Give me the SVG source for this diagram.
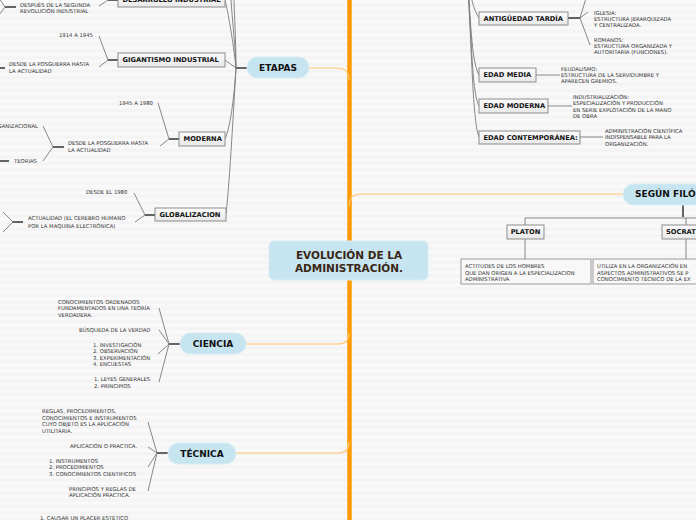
<svg xmlns="http://www.w3.org/2000/svg" width="696" height="520" viewBox="0 0 696 520">
<defs>
<pattern id="bg" patternUnits="userSpaceOnUse" width="10" height="6.6">
<rect width="10" height="6.6" fill="#f4f4f4"/>
<rect y="0" width="10" height="3.3" fill="#f9f9f9"/>
</pattern>
<linearGradient id="boxg" x1="0" y1="0" x2="0" y2="1">
<stop offset="0" stop-color="#fbfbfb"/>
<stop offset="1" stop-color="#e8e8e8"/>
</linearGradient>
</defs>
<style>
.pill{fill:#c6e5f1;stroke:#d6edf6;stroke-width:1}
.box{fill:url(#boxg);stroke:#8c8c8c;stroke-width:1}
.lbox{fill:#f8f8f8;stroke:#9a9a9a;stroke-width:1}
.pt{font-family:"DejaVu Sans",Verdana,sans-serif;font-weight:bold;font-size:9px;fill:#111;text-anchor:middle}
.bt{font-family:"DejaVu Sans",Verdana,sans-serif;font-weight:bold;font-size:6.7px;fill:#111}
.lt{font-family:"DejaVu Sans",Verdana,sans-serif;font-size:5.3px;fill:#333}
.ct{font-family:"DejaVu Sans",Verdana,sans-serif;font-weight:bold;font-size:10.5px;fill:#3a2614;text-anchor:middle}
.g{fill:none;stroke:#7a7a7a;stroke-width:0.9}
.d{fill:none;stroke:#333;stroke-width:1.5}
.o{fill:none;stroke:#ffc66e;stroke-width:1.2}
</style>
<rect width="696" height="520" fill="url(#bg)"/>

<g id="connectors">
<path d="M349.5,-5 V525" stroke="#ff9b00" stroke-width="4.5" fill="none"/>
<path class="o" d="M309,68 H337 C345,68 349,72 349,80"/>
<path class="o" d="M246,344 H338 C345,344 349,340 349,333"/>
<path class="o" d="M236,453 H338 C345,453 349,449 349,442"/>
<path class="o" d="M349,207 C349,198 352,194 362,194 H623"/>
<path class="d" d="M247,68 H236"/>
<path class="g" d="M236,68 C233,40 228,12 225,0"/>
<path class="g" d="M236,68 C235,40 231,10 229,-30"/>
<path class="g" d="M236,68 C236,40 234,10 233,-30"/>
<path class="g" d="M236,68 L225,60"/>
<path class="g" d="M236,68 C234,100 230,128 225,139"/>
<path class="g" d="M236,68 C233,120 229,190 226,214"/>
<path class="d" d="M118,0 H108"/>
<path class="g" d="M108,0 L99,6"/>
<path class="d" d="M16,7 H5"/>
<path class="g" d="M5,7 L-1,-2 M5,7 L-1,15"/>
<path class="d" d="M118,60 H108"/>
<path class="g" d="M108,60 L99,36 M108,60 L99,67"/>
<path class="d" d="M-5,68 H5"/>
<path class="d" d="M179,139 H169"/>
<path class="g" d="M169,139 L158,103 M169,139 L160,146"/>
<path class="d" d="M64,147 H53"/>
<path class="g" d="M53,147 L43,126 M53,147 L43,161"/>
<path class="d" d="M-5,161 H9"/>
<path class="d" d="M155,215 H145"/>
<path class="g" d="M145,215 L134,193 M145,215 L135,222"/>
<path class="d" d="M23,222 H13"/>
<path class="g" d="M13,222 L3,212 M13,222 L3,232"/>
<path class="g" d="M466,-40 C470,0 474,10 479,18"/>
<path class="g" d="M466,-40 C471,20 471,60 479,75"/>
<path class="g" d="M466,-40 C472,30 471,90 479,106"/>
<path class="g" d="M466,-40 C472,40 472,120 479,137"/>
<path class="d" d="M568,18 H580"/>
<path class="g" d="M580,18 L588,12 M580,18 L590,45 M580,18 L587,-5"/>
<path class="g" d="M536,75 H560 M548,106 H572 M580,137 H603"/>
<path class="d" d="M683,205 V217"/>
<path class="g" d="M525,218 H700 M525,218 V225 M686,218 V225 M525,239 V259 M686,239 V259"/>
<path class="d" d="M180,344 H169"/>
<path class="g" d="M169,344 L159,308 M169,344 L159,330 M169,344 L158,354 M169,344 L159,382"/>
<path class="d" d="M168,453 H157"/>
<path class="g" d="M157,453 L148,422 M157,453 L148,447 M157,453 L148,467 M157,453 L148,491"/>
</g>

<g id="center">
<rect x="269" y="241" width="159" height="39" rx="5" class="pill"/>
<text class="ct" x="349" y="259">EVOLUCIÓN DE LA</text>
<text class="ct" x="349" y="272">ADMINISTRACIÓN.</text>
</g>

<g id="etapas">
<rect x="247" y="57" width="62" height="21" rx="10.5" class="pill"/>
<text class="pt" x="278" y="71.2">ETAPAS</text>
</g>

<g id="desarrollo">
<rect x="118" y="-7" width="107" height="14" class="box"/>
<text class="bt" x="122.5" y="2.4">DESARROLLO INDUSTRIAL</text>
</g>
<g id="desarrollo-leaf">
<text class="lt" x="20" y="7">DESPUÉS DE LA SEGUNDA</text>
<text class="lt" x="20" y="13">REVOLUCIÓN INDUSTRIAL</text>
</g>

<g id="gigantismo">
<rect x="118" y="53" width="107" height="14" class="box"/>
<text class="bt" x="122.5" y="62.4">GIGANTISMO INDUSTRIAL</text>
</g>
<g id="gig-leaf1"><text class="lt" x="59" y="37">1914 A 1945</text></g>
<g id="gig-leaf2">
<text class="lt" x="9" y="66">DESDE LA POSGUERRA HASTA</text>
<text class="lt" x="9" y="73">LA ACTUALIDAD</text>
</g>

<g id="moderna">
<rect x="179" y="132" width="46" height="14" class="box"/>
<text class="bt" x="183.5" y="141.4">MODERNA</text>
</g>
<g id="mod-leaf1"><text class="lt" x="119" y="105">1945 A 1980</text></g>
<g id="mod-leaf2">
<text class="lt" x="68" y="145">DESDE LA POSGUERRA HASTA</text>
<text class="lt" x="68" y="152">LA ACTUALIDAD</text>
</g>
<g id="mod-org"><text class="lt" x="38" y="128" text-anchor="end">ORGANIZACIONAL</text></g>
<g id="mod-teorias"><text class="lt" x="14" y="163">TEORIAS</text></g>

<g id="globalizacion">
<rect x="155" y="208" width="71" height="13" class="box"/>
<text class="bt" x="159.5" y="216.9">GLOBALIZACION</text>
</g>
<g id="glob-leaf1"><text class="lt" x="86" y="194">DESDE EL 1980</text></g>
<g id="glob-leaf2">
<text class="lt" x="28" y="220">ACTUALIDAD (EL CEREBRO HUMANO</text>
<text class="lt" x="28" y="228">POR LA MAQUINA ELECTRÓNICA)</text>
</g>

<g id="antiguedad">
<rect x="479" y="12" width="89" height="13" class="box"/>
<text class="bt" x="483.5" y="20.9">ANTIGÜEDAD TARDÍA</text>
</g>
<g id="iglesia">
<text class="lt" x="594" y="15">IGLESIA:</text>
<text class="lt" x="594" y="21">ESTRUCTURA JERARQUIZADA</text>
<text class="lt" x="594" y="27">Y CENTRALIZADA.</text>
</g>
<g id="romanos">
<text class="lt" x="594" y="42">ROMANOS:</text>
<text class="lt" x="594" y="48">ESTRUCTURA ORGANIZADA Y</text>
<text class="lt" x="594" y="54">AUTORITARIA (FUNCIONES).</text>
</g>

<g id="edad-media">
<rect x="479" y="68" width="57" height="14" class="box"/>
<text class="bt" x="483.5" y="77.4">EDAD MEDIA</text>
</g>
<g id="feudalismo">
<text class="lt" x="561" y="71">FEUDALISMO:</text>
<text class="lt" x="561" y="77">ESTRUCTURA DE LA SERVIDUMBRE Y</text>
<text class="lt" x="561" y="83">APARECEN GREMIOS.</text>
</g>

<g id="edad-moderna">
<rect x="479" y="99" width="69" height="14" class="box"/>
<text class="bt" x="483.5" y="108.4">EDAD MODERNA</text>
</g>
<g id="industrializacion">
<text class="lt" x="573" y="99">INDUSTRIALIZACIÓN:</text>
<text class="lt" x="573" y="105">ESPECIALIZACIÓN Y PRODUCCIÓN</text>
<text class="lt" x="573" y="112">EN SERIE EXPLOTACIÓN DE LA MANO</text>
<text class="lt" x="573" y="118">DE OBRA</text>
</g>

<g id="edad-contemporanea">
<rect x="479" y="131" width="101" height="13" class="box"/>
<text class="bt" x="483.5" y="139.9">EDAD CONTEMPORÁNEA:</text>
</g>
<g id="admin-cientifica">
<text class="lt" x="605" y="133">ADMINISTRACIÓN CIENTÍFICA</text>
<text class="lt" x="605" y="139">INDISPENSABLE PARA LA</text>
<text class="lt" x="605" y="146">ORGANIZACIÓN.</text>
</g>

<g id="filosofos">
<rect x="623" y="184" width="110" height="21" rx="10.5" class="pill"/>
<text class="pt" x="635" y="197.2" style="text-anchor:start">SEGÚN FILÓSOFOS</text>
</g>
<g id="platon">
<rect x="507" y="225" width="37" height="14" class="box"/>
<text class="bt" x="525.5" y="234.4" style="text-anchor:middle">PLATON</text>
</g>
<g id="platon-leaf">
<rect x="461" y="259" width="130" height="25" class="lbox"/>
<text class="lt" x="465" y="268">ACTITUDES DE LOS HOMBRES</text>
<text class="lt" x="465" y="275">QUE DAN ORIGEN  A LA ESPECIALIZACION</text>
<text class="lt" x="465" y="281">ADMINISTRATIVA</text>
</g>
<g id="socrates">
<rect x="662" y="225" width="60" height="14" class="box"/>
<text class="bt" x="666" y="234.4">SOCRATES</text>
</g>
<g id="socrates-leaf">
<rect x="593" y="259" width="120" height="25" class="lbox"/>
<text class="lt" x="597" y="268">UTILIZA EN LA ORGANIZACIÓN EN</text>
<text class="lt" x="597" y="275">ASPECTOS ADMINISTRATIVOS SE P</text>
<text class="lt" x="597" y="281">CONOCIMIENTO TÉCNICO DE LA EX</text>
</g>

<g id="ciencia">
<rect x="180" y="333" width="66" height="21" rx="10.5" class="pill"/>
<text class="pt" x="213" y="347.2">CIENCIA</text>
</g>
<g id="ciencia-leaf1">
<text class="lt" x="58" y="304">CONOCIMIENTOS ORDENADOS</text>
<text class="lt" x="58" y="310">FUNDAMENTADOS EN UNA TEORÍA</text>
<text class="lt" x="58" y="317">VERDADERA.</text>
</g>
<g id="ciencia-leaf2"><text class="lt" x="79" y="332">BÚSQUEDA DE LA VERDAD</text></g>
<g id="ciencia-leaf3">
<text class="lt" x="93" y="347">1. INVESTIGACIÓN</text>
<text class="lt" x="93" y="353">2. OBSERVACIÓN</text>
<text class="lt" x="93" y="360">3. EXPERIMENTACIÓN</text>
<text class="lt" x="93" y="366">4. ENCUESTAS</text>
</g>
<g id="ciencia-leaf4">
<text class="lt" x="94" y="381">1. LEYES GENERALES</text>
<text class="lt" x="94" y="388">2. PRINCIPIOS</text>
</g>

<g id="tecnica">
<rect x="168" y="443" width="68" height="21" rx="10.5" class="pill"/>
<text class="pt" x="202" y="456.7">TÉCNICA</text>
</g>
<g id="tecnica-leaf1">
<text class="lt" x="42" y="413">REGLAS, PROCEDIMIENTOS,</text>
<text class="lt" x="42" y="420">CONOCIMIENTOS E INSTRUMENTOS</text>
<text class="lt" x="42" y="426">CUYO OBJETO ES LA APLICACIÓN</text>
<text class="lt" x="42" y="433">UTILITARIA.</text>
</g>
<g id="tecnica-leaf2"><text class="lt" x="70" y="448">APLICACIÓN O PRACTICA.</text></g>
<g id="tecnica-leaf3">
<text class="lt" x="49" y="463">1. INSTRUMENTOS</text>
<text class="lt" x="49" y="469">2. PROCEDIMIENTOS</text>
<text class="lt" x="49" y="476">3. CONOCIMIENTOS CIENTIFICOS</text>
</g>
<g id="tecnica-leaf4">
<text class="lt" x="69" y="491">PRINCIPIOS Y REGLAS DE</text>
<text class="lt" x="69" y="497">APLICACIÓN PRACTICA.</text>
</g>
<g id="arte-leaf"><text class="lt" x="40" y="520">1. CAUSAR UN PLACER ESTÉTICO</text></g>
</svg>
